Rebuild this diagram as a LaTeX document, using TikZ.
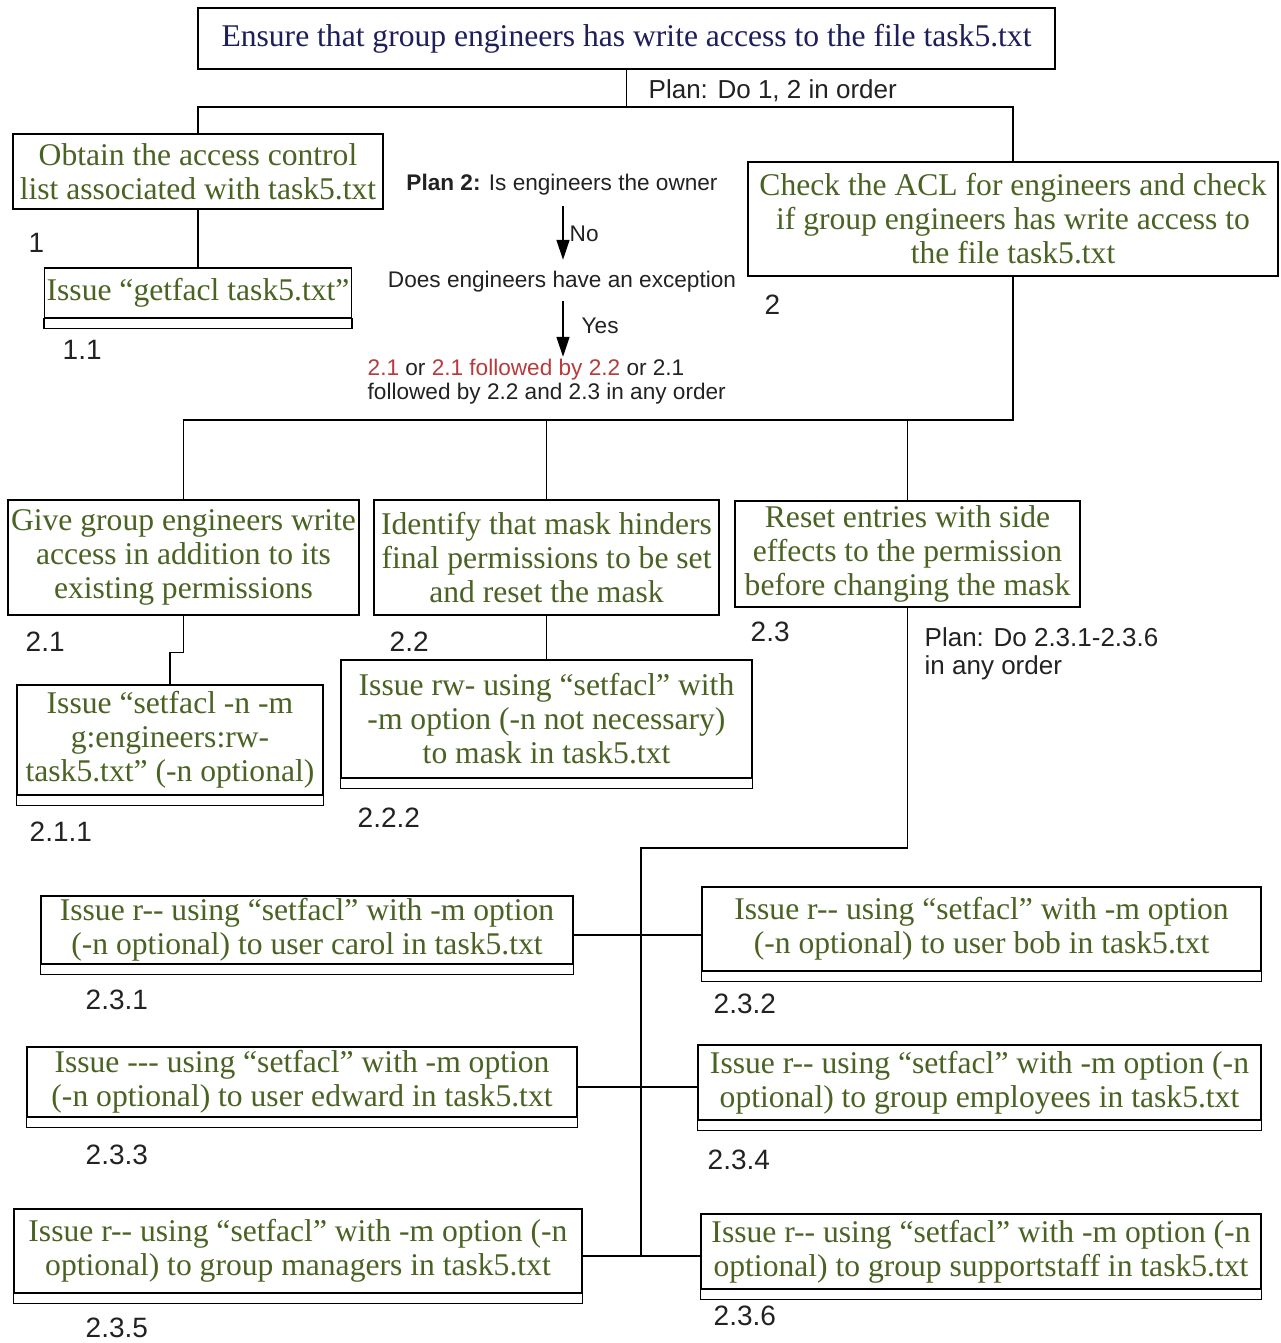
\documentclass[tikz,border=0pt]{standalone}
\usepackage{fontspec}
\setmainfont{Liberation Serif}
\setsansfont{Liberation Sans}
\usetikzlibrary{arrows.meta}
\definecolor{navy}{HTML}{1E1E5A}
\definecolor{leaf}{HTML}{4A6323}
\definecolor{hint}{HTML}{B83A3A}
\definecolor{ink}{HTML}{222222}
\tikzset{
  task/.style={draw, line width=0.7pt, align=center, text=leaf, inner sep=1pt,
    font=\fontsize{15.8}{17}\selectfont},
  num/.style={anchor=west, inner sep=0pt, text=ink, font=\sffamily\fontsize{14}{16}\selectfont},
  plan/.style={anchor=west, inner sep=0pt, align=left, text=ink, font=\sffamily\fontsize{13}{14}\selectfont},
  note/.style={inner sep=1pt, align=center, text=ink, font=\sffamily\fontsize{11.3}{12}\selectfont},
  tip/.style={-{Triangle[length=10pt,width=6.5pt]}},
}
% lower compartment of a leaf box, with side points at the middle of the whole box
\newcommand\cmpt[1]{\draw[line width=0.7pt] (#1.south west) rectangle ([yshift=-5pt]#1.south east);
  \coordinate (#1-e) at ([yshift=-2.5pt]#1.east);
  \coordinate (#1-w) at ([yshift=-2.5pt]#1.west);}
\newcommand\dd{-\kern0pt-}
\begin{document}
\begin{tikzpicture}[x=0.5pt, y=-0.5pt, line width=0.7pt]
\path[use as bounding box, fill=white] (0,0) rectangle (1280,1343);
\node[task, text=navy, minimum width=428.5pt, minimum height=30.5pt] (top) at (626.5,38.5)
  {Ensure that group engineers has write access to the file task5.txt};
\node[plan] (p0) at (648,91) {Plan: Do 1, 2 in order};
\node[task, minimum width=185pt, minimum height=37.5pt] (b1) at (198,171.5)
  {Obtain the access control\\list associated with task5.txt};
\node[num] (l1) at (28,243) {1};
\node[task, minimum width=152.5pt, minimum height=25pt] (b11) at (198,293) {Issue “getfacl task5.txt”};
\cmpt{b11}
\node[num] (l11) at (62,350) {1.1};
\node[task, minimum width=265pt, minimum height=57pt] (b2) at (1013,219)
  {Check the ACL for engineers and check\\if group engineers has write access to\\the file task5.txt};
\node[num] (l2) at (764,305) {2};
% plan 2
\node[note] (q1) at (562,185) {\textbf{Plan 2:} Is engineers the owner};
\node[note] (q2) at (562,282) {Does engineers have an exception};
\node[note, align=left, anchor=west] (opt) at (365,382)
  {\textcolor{hint}{2.1} or \textcolor{hint}{2.1 followed by 2.2} or 2.1\\followed by 2.2 and 2.3 in any order};
\draw[tip, shorten <=4pt, shorten >=4.5pt] (q1.south -| 563,0) -- (q2.north -| 563,0)
  node[note, midway, right, inner sep=3pt] (no) {No};
\draw[tip, shorten <=3pt] (q2.south -| 563,0) -- (opt.north -| 563,0)
  node[note, midway, right, xshift=8pt] (yes) {Yes};
% level 2
\node[task, minimum width=175.5pt, minimum height=57.5pt] (b21) at (183.5,557.5)
  {Give group engineers write\\access in addition to its\\existing permissions};
\node[task, minimum width=172.5pt, minimum height=57.5pt] (b22) at (546.5,557.5)
  {Identify that mask hinders\\final permissions to be set\\and reset the mask};
\node[task, minimum width=172.5pt, minimum height=53pt] (b23) at (907.5,554)
  {Reset entries with side\\effects to the permission\\before changing the mask};
\node[num] (l21) at (25,642) {2.1};
\node[num] (l22) at (389,642) {2.2};
\node[num] (l23) at (750,632) {2.3};
\node[plan] (p23) at (924,654) {Plan: Do 2.3.1-2.3.6\\in any order};
\node[task, minimum width=153pt, minimum height=55pt] (b211) at (170,740)
  {Issue “setfacl -n -m\\g:engineers:rw-\\task5.txt” (-n optional)};
\cmpt{b211}
\node[num] (l211) at (29,832) {2.1.1};
\node[task, minimum width=205.5pt, minimum height=59pt] (b222) at (546.5,719)
  {Issue rw- using “setfacl” with\\-m option (-n not necessary)\\to mask in task5.txt};
\cmpt{b222}
\node[num] (l222) at (357,818) {2.2.2};
% level 3
\node[task, minimum width=266pt, minimum height=34pt] (c1) at (307,930)
  {Issue r\dd{} using “setfacl” with -m option\\(-n optional) to user carol in task5.txt};
\node[task, minimum width=279.5pt, minimum height=42pt] (c2) at (981.5,929)
  {Issue r\dd{} using “setfacl” with -m option\\(-n optional) to user bob in task5.txt};
\node[task, minimum width=275pt, minimum height=35pt] (c3) at (302,1082)
  {Issue -\kern0pt-\kern0pt- using “setfacl” with -m option\\(-n optional) to user edward in task5.txt};
\node[task, minimum width=281.5pt, minimum height=37.5pt] (c4) at (979.5,1082.5)
  {Issue r\dd{} using “setfacl” with -m option (-n\\optional) to group employees in task5.txt};
\node[task, minimum width=284pt, minimum height=42pt] (c5) at (298,1251)
  {Issue r\dd{} using “setfacl” with -m option (-n\\optional) to group managers in task5.txt};
\node[task, minimum width=280pt, minimum height=37.5pt] (c6) at (981,1251.5)
  {Issue r\dd{} using “setfacl” with -m option (-n\\optional) to group supportstaff in task5.txt};
\cmpt{c1} \cmpt{c2} \cmpt{c3} \cmpt{c4} \cmpt{c5} \cmpt{c6}
\node[num] (l231) at (85,1000) {2.3.1};
\node[num] (l232) at (713,1004) {2.3.2};
\node[num] (l233) at (85,1155) {2.3.3};
\node[num] (l234) at (707,1160) {2.3.4};
\node[num] (l235) at (85,1328) {2.3.5};
\node[num] (l236) at (713,1316) {2.3.6};
% connectors
\coordinate (j0) at (626.5,107);
\coordinate (j1) at (1013,420);
\coordinate (tr) at (641,848);
\draw (top.south) -- (j0);
\draw (b1.north) |- (j0) -| (b2.north);
\draw (b1.south) -- (b11.north);
\draw (b2.south) -- (j1) -| (b21.north);
\draw (b22.north) -- (b22.north |- j1);
\draw (b23.north) -- (b23.north |- j1);
\draw (b21.south) -- ++(0,37) -| (b211.north);
\draw (b22.south) -- (b222.north);
\draw (b23.south) |- (tr) -- (tr |- c5-e);
\draw (c1-e) -- (c1-e -| c2-w);
\draw (c3-e) -- (c3-e -| c4-w);
\draw (c5-e) -- (c5-e -| c6-w);
\end{tikzpicture}
\end{document}
